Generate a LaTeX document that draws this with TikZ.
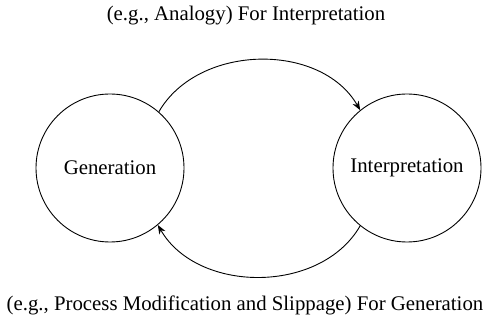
\documentclass[tikz,border=0pt]{standalone}
\usepackage{fontspec}
\setmainfont{Liberation Serif}
\usetikzlibrary{arrows.meta}

\begin{document}
\begin{tikzpicture}[x=1pt,y=1pt,
  phase/.style={draw,circle,minimum size=148pt,inner sep=0pt},
  flow/.style={-{Stealth[length=9pt,width=7pt]}},
  line width=0.9pt,font=\fontsize{20.8}{24}\selectfont]
\useasboundingbox (0,0) rectangle (484,321);

% circles
\node[phase] (gen) at (110,153) {Generation};
\node[phase] (interp) at (407,153) {Interpretation};

% labels
\node (toplabel) at (246,305) {(e.g., Analogy) For Interpretation};
\node (botlabel) at (245,16) {(e.g., Process Modification and Slippage) For Generation};

% arrows
\draw[flow] (gen.49) to[out=60,in=120] (interp.129);
\draw[flow] (interp.231) to[out=240,in=300] (gen.310);
\end{tikzpicture}
\end{document}
